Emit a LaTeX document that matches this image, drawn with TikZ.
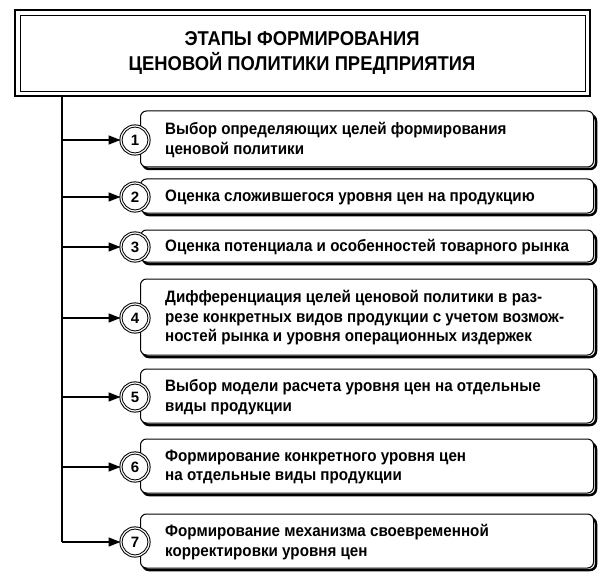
\documentclass[tikz,border=0pt]{standalone}
\usepackage{fontspec}
\setmainfont{Liberation Sans}
\newfontfamily\etroite[FakeStretch=0.92]{Liberation Sans}
\usetikzlibrary{arrows.meta}
\tikzset{
  num/.style={draw, double, line width=1pt, double distance=1.2pt, circle, fill=white, minimum size=28pt,
    inner sep=0pt, font=\bfseries\fontsize{15}{15}\selectfont},
  ombre/.style={line width=2.5pt, rounded corners=6pt}
}
\begin{document}
\begin{tikzpicture}[x=1pt,y=-1pt]
  \useasboundingbox (0,0) rectangle (608,583);
  % Titre
  \draw [line width=2.5pt] (15,10) rectangle (590,96);
  \draw [line width=0.8pt] (20,15) rectangle (585,91);
  \node (titre) [align=center, font=\etroite\bfseries\fontsize{20}{25}\selectfont] at (302,53)
    {ЭТАПЫ ФОРМИРОВАНИЯ\\ЦЕНОВОЙ ПОЛИТИКИ ПРЕДПРИЯТИЯ};
  \coordinate (haut) at (62,96);
  \coordinate (bas) at (62,542);
  \draw [line width=1.5pt] (haut) -- (bas);
  % Etapes
  \foreach \n/\y/\h/\t in {
    1/140/56/{Выбор определяющих целей формирования\\ценовой политики},
    2/197/34/{Оценка сложившегося уровня цен на продукцию},
    3/247/32/{Оценка потенциала и особенностей товарного рынка},
    4/318/76/{Дифференциация целей ценовой политики в раз-\\резе конкретных видов продукции с учетом возмож-\\ностей рынка и уровня операционных издержек},
    5/397/54/{Выбор модели расчета уровня цен на отдельные\\виды продукции},
    6/467/54/{Формирование конкретного уровня цен\\на отдельные виды продукции},
    7/542/54/{Формирование механизма своевременной\\корректировки уровня цен}}
  {
    \draw [ombre] (143,\y-\h/2+3) rectangle (596,\y+\h/2+1);
    \node (e\n) [draw, line width=1pt, rounded corners=6pt, fill=white, minimum height=\h pt,
      minimum width=453pt, anchor=west, inner sep=0pt] at (140,\y-1) {};
    \node (t\n) [anchor=west, align=left, inner sep=0pt,
      font=\etroite\bfseries\fontsize{16.5}{19.5}\selectfont] at (165,\y) {\t};
    \node (c\n) [num] at (135,\y) {\n};
    \draw [line width=1.5pt, -{Triangle[length=12pt,width=9pt]}] (62,\y) -- (c\n.west);
  }
\end{tikzpicture}
\end{document}
